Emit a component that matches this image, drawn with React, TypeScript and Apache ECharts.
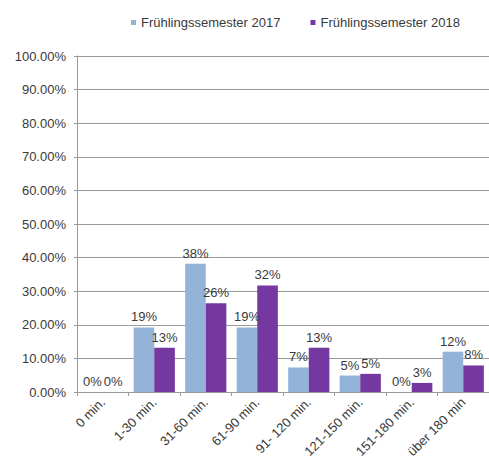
import React, { useEffect, useRef } from "react";
import * as echarts from "echarts";

const categories = [
  "0 min.",
  "1-30 min.",
  "31-60 min.",
  "61-90 min.",
  "91- 120 min.",
  "121-150 min.",
  "151-180 min.",
  "über 180 min",
];
const seriesNames = ["Frühlingssemester 2017", "Frühlingssemester 2018"];
const values2017 = [0, 19.2, 38.2, 19.2, 7.3, 4.9, 0, 12.0];
const values2018 = [0, 13.2, 26.4, 31.7, 13.2, 5.4, 2.7, 7.9];
const yMin = 0;
const yMax = 100;
const yInterval = 10;

const colors = ["#94B3D9", "#7438A0"];
const font = "'Liberation Sans', Arial, sans-serif";
const textColor = "#3a3a3a";

export default function App() {
  const ref = useRef<HTMLDivElement>(null);
  useEffect(() => {
    if (!ref.current) return;
    const chart = echarts.init(ref.current, null, { renderer: "svg" });
    const labelCfg = {
      show: true,
      position: "top",
      distance: 4,
      fontSize: 13,
      fontFamily: font,
      color: textColor,
      formatter: (p: any) => Math.round(p.value) + "%",
    };
    chart.setOption({
      animation: false,
      color: colors,
      legend: {
        data: seriesNames,
        top: 11,
        left: 126,
        itemWidth: 5,
        itemHeight: 5,
        itemGap: 30,
        icon: "rect",
        textStyle: { fontSize: 13, fontFamily: font, color: textColor },
      },
      grid: { left: 77, right: -9, top: 56, bottom: 77, containLabel: false },
      xAxis: {
        type: "category",
        data: categories,
        axisLine: { lineStyle: { color: "#9a9a9a" } },
        axisTick: { show: true, length: 4, lineStyle: { color: "#9a9a9a" } },
        axisLabel: {
          rotate: 45,
          interval: 0,
          margin: 8,
          fontSize: 13,
          fontFamily: font,
          color: textColor,
        },
      },
      yAxis: {
        type: "value",
        min: yMin,
        max: yMax,
        interval: yInterval,
        axisLine: { show: true, lineStyle: { color: "#9a9a9a" } },
        axisTick: { show: true, length: 3, lineStyle: { color: "#9a9a9a" } },
        splitLine: { lineStyle: { color: "#9a9a9a" } },
        axisLabel: {
          margin: 11,
          fontSize: 13,
          fontFamily: font,
          color: textColor,
          formatter: (v: number) => v.toFixed(2) + "%",
        },
      },
      series: [
        {
          name: seriesNames[0],
          type: "bar",
          data: values2017,
          barGap: "0%",
          barCategoryGap: "20%",
          label: labelCfg,
        },
        {
          name: seriesNames[1],
          type: "bar",
          data: values2018,
          barGap: "0%",
          barCategoryGap: "20%",
          label: labelCfg,
        },
      ],
    });
    return () => chart.dispose();
  }, []);
  return (
    <div style={{ position: "fixed", left: 0, top: 0, width: 489, height: 469, overflow: "hidden", background: "#fff" }}>
      <div ref={ref} style={{ width: 489, height: 469 }} />
    </div>
  );
}
